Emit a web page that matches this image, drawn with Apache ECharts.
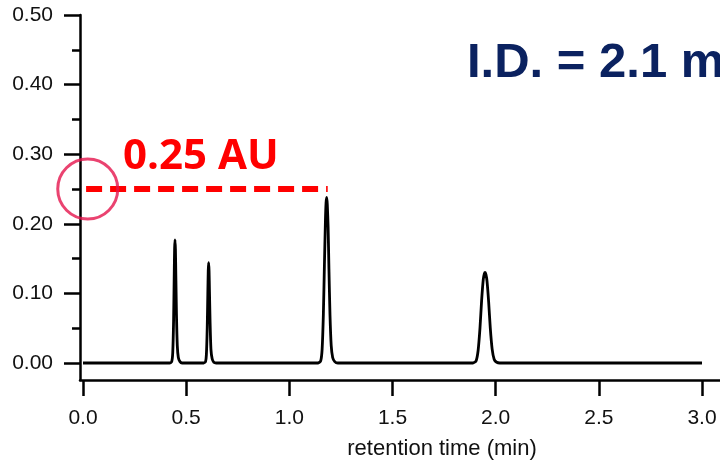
<!DOCTYPE html>
<html>
<head>
<meta charset="utf-8">
<script src="https://cdn.jsdelivr.net/npm/echarts@6/dist/echarts.min.js"></script>
<style>
  html, body { margin: 0; padding: 0; background: #fff; }
  #chart { width: 720px; height: 463px; }
</style>
</head>
<body>
<div id="chart"></div>
<script>
    // chromatogram (min, AU)
    var retentionTime = [
        0, 0.420, 0.430, 0.435, 0.439, 0.442, 0.444, 0.446, 0.448, 0.450, 0.453, 0.457, 0.462, 0.470, 0.480,
        0.585, 0.594, 0.598, 0.602, 0.605, 0.607, 0.609, 0.611, 0.613, 0.616, 0.620, 0.626, 0.634, 0.645,
        1.140, 1.152, 1.159, 1.165, 1.170, 1.175, 1.178, 1.181, 1.184, 1.188, 1.192, 1.197, 1.203, 1.210, 1.220, 1.235,
        1.890, 1.905, 1.915, 1.924, 1.932, 1.940, 1.945, 1.949, 1.953, 1.958, 1.966, 1.974, 1.983, 1.993, 2.005, 2.020,
        3.0
    ];
    var absorbance = [
        0, 0, 0.002, 0.015, 0.060, 0.125, 0.165, 0.177, 0.163, 0.125, 0.070, 0.025, 0.008, 0.002, 0,
        0, 0.002, 0.012, 0.050, 0.100, 0.133, 0.144, 0.132, 0.102, 0.058, 0.020, 0.006, 0.001, 0,
        0, 0.003, 0.020, 0.070, 0.140, 0.205, 0.230, 0.238, 0.228, 0.195, 0.135, 0.070, 0.025, 0.008, 0.002, 0,
        0, 0.003, 0.018, 0.050, 0.090, 0.120, 0.128, 0.130, 0.127, 0.118, 0.088, 0.050, 0.020, 0.005, 0.001, 0,
        0
    ];

    var xTicks = [0, 0.5, 1.0, 1.5, 2.0, 2.5, 3.0];
    var yTicks = [0, 0.1, 0.2, 0.3, 0.4, 0.5];
    var yMinorTicks = [0.05, 0.15, 0.25, 0.35, 0.45];

    // 0.25 AU marker: dashed level line and circle on the axis
    var auLine = [[0.015, 0.25], [1.186, 0.25]];
    var auCircle = [[0.023, 0.25]];

    var trace = [];
    for (var i = 0; i < retentionTime.length; i++) {
        trace.push([retentionTime[i], absorbance[i]]);
    }

    var myChart = echarts.init(document.getElementById('chart'));

    var labelFont = 'Liberation Sans, Arial, sans-serif';

    var option = {
        animation: false,
        backgroundColor: '#ffffff',
        title: [
            {
                text: 'I.D. = 2.1 mm',
                left: 462,
                top: 34,
                textStyle: { fontFamily: labelFont, fontWeight: 'bold', fontSize: 49, color: '#0B2260' }
            },
            {
                text: '0.25 AU',
                left: 118,
                top: 131,
                textStyle: { fontFamily: 'Open Sans, Lato, sans-serif', fontWeight: 'bold', fontSize: 42, color: '#FF0000' }
            }
        ],
        // right edge just past the canvas so the axis runs off the picture
        grid: { left: 80, right: -2, top: 15, bottom: 83, outerBoundsMode: 'none' },
        xAxis: {
            type: 'value',
            min: -0.01454,
            max: 3.097,
            name: 'retention time (min)',
            nameLocation: 'middle',
            nameGap: 58,
            nameTextStyle: { fontFamily: labelFont, fontSize: 22, color: '#111', padding: [0, 0, 0, 82] },
            axisLine: { onZero: false, lineStyle: { color: '#000', width: 2.5 } },
            axisTick: { customValues: xTicks, length: 16, lineStyle: { color: '#000', width: 2.5 } },
            axisLabel: {
                customValues: xTicks,
                margin: 28,
                fontFamily: labelFont, fontSize: 21, color: '#111',
                formatter: function (v) { return v.toFixed(1); }
            },
            splitLine: { show: false }
        },
        yAxis: [
            {
                type: 'value',
                min: -0.02443,
                max: 0.5,
                position: 'left',
                axisLine: { show: true, onZero: false, lineStyle: { color: '#000', width: 2.5 } },
                axisTick: { show: true, customValues: yTicks, length: 16, lineStyle: { color: '#000', width: 2.5 } },
                axisLabel: {
                    customValues: yTicks,
                    margin: 27,
                    fontFamily: labelFont, fontSize: 21, color: '#111',
                    formatter: function (v) { return v.toFixed(2); }
                },
                splitLine: { show: false }
            },
            {
                // minor ticks only
                type: 'value',
                min: -0.02443,
                max: 0.5,
                position: 'left',
                offset: 0,
                axisLine: { show: false, onZero: false },
                axisTick: { show: true, customValues: yMinorTicks, length: 8, lineStyle: { color: '#000', width: 2.5 } },
                axisLabel: { show: false },
                splitLine: { show: false }
            }
        ],
        series: [
            {
                name: 'trace',
                type: 'line',
                data: trace,
                symbol: 'none',
                smooth: 0.2,
                lineStyle: { color: '#000', width: 2.8 },
                z: 3
            },
            {
                name: '0.25 AU',
                type: 'line',
                data: auLine,
                symbol: 'none',
                lineStyle: { color: '#FF0000', width: 6, type: [16, 8], cap: 'butt' },
                z: 4
            },
            {
                name: 'marker',
                type: 'scatter',
                data: auCircle,
                symbol: 'circle',
                symbolSize: 60,
                itemStyle: { color: 'rgba(0,0,0,0)', borderColor: '#E5144C', borderWidth: 3 },
                z: 5
            }
        ]
    };

    myChart.setOption(option);
</script>
</body>
</html>
